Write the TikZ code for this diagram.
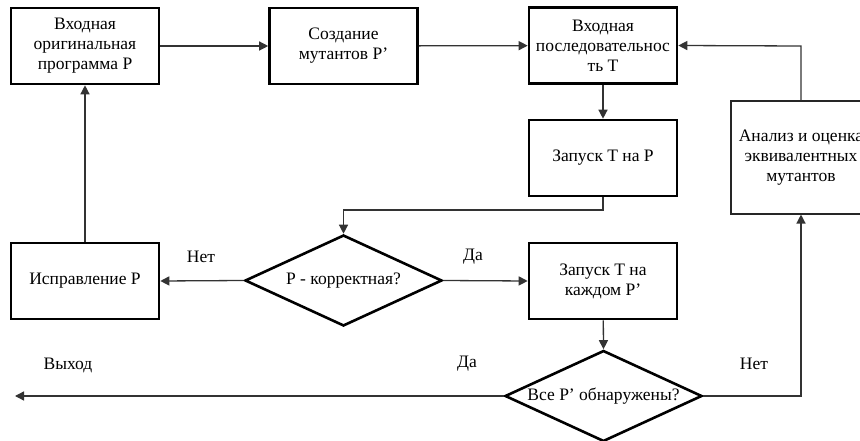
\documentclass[tikz,border=0pt]{standalone}
\usepackage{fontspec}
\setmainfont{Liberation Serif}
\usetikzlibrary{arrows.meta,shapes.geometric}
\begin{document}
\begin{tikzpicture}[x=1pt,y=-1pt,
  font=\fontsize{17.5}{20}\selectfont,
  box/.style={draw=black,line width=2.6pt,align=center,inner sep=0pt,minimum width=148pt,minimum height=76pt},
  thinbox/.style={draw=black!85,line width=1.1pt,align=center,inner sep=0pt,minimum width=140pt,minimum height=113pt},
  dec/.style={draw=black,line width=2.6pt,diamond,aspect=2.16,inner sep=0pt,minimum width=197pt,minimum height=91pt},
  conn/.style={draw=black!80,line width=1.3pt,-{Triangle[length=9pt,width=9pt]}},
  lbl/.style={inner sep=0pt}]
\useasboundingbox (0,0) rectangle (860,441);
\clip (0,0) rectangle (860,441);
\fill[white] (0,0) rectangle (860,441);
\node[box] (b1) at (85,46) {Входная\\оригинальная\\программа Р};
\node[box] (b2) at (343.5,46) {Создание\\мутантов Р'};
\node[box] (b3) at (603,45.5) {Входная\\последовательнос\\ть Т};
\node[box] (b4) at (603,158) {Запуск Т на Р};
\node[thinbox] (b5) at (801,157.5) {Анализ и оценка\\эквивалентных\\мутантов};
\node[box] (fix) at (85,281) {Исправление Р};
\node[dec] (d1) at (343.5,280.5) {Р - корректная?};
\node[box] (b6) at (603,281) {Запуск Т на\\каждом Р'};
\node[dec] (d2) at (603.5,396) {Все Р' обнаружены?};
\coordinate (exit) at (15,396);
\coordinate (c1) at (603,210);
\coordinate (c2) at (343.5,210);
\coordinate (c3) at (801,396);
\coordinate (c4) at (801,46);
\node[lbl] (n1) at (201,257) {Нет};
\node[lbl] (y1) at (473,257) {Да};
\node[lbl] (ex) at (68,365) {Выход};
\node[lbl] (y2) at (467,364) {Да};
\node[lbl] (n2) at (754,364) {Нет};
\draw[conn] (b1) -- (b2);
\draw[conn] (b2) -- (b3);
\draw[conn] (b3) -- (b4);
\draw[conn] (b4.south) -- (c1) -- (c2) -- (d1.north);
\draw[conn] (d1.west) -- (fix.east);
\draw[conn] (fix) -- (b1);
\draw[conn] (d1.east) -- (b6.west);
\draw[conn] (b6) -- (d2.north);
\draw[conn] (d2.west) -- (exit);
\draw[conn] (d2.east) -- (c3) -- (b5.south);
\draw[conn] (b5.north) -- (c4) -- (b3.east);
\end{tikzpicture}
\end{document}
